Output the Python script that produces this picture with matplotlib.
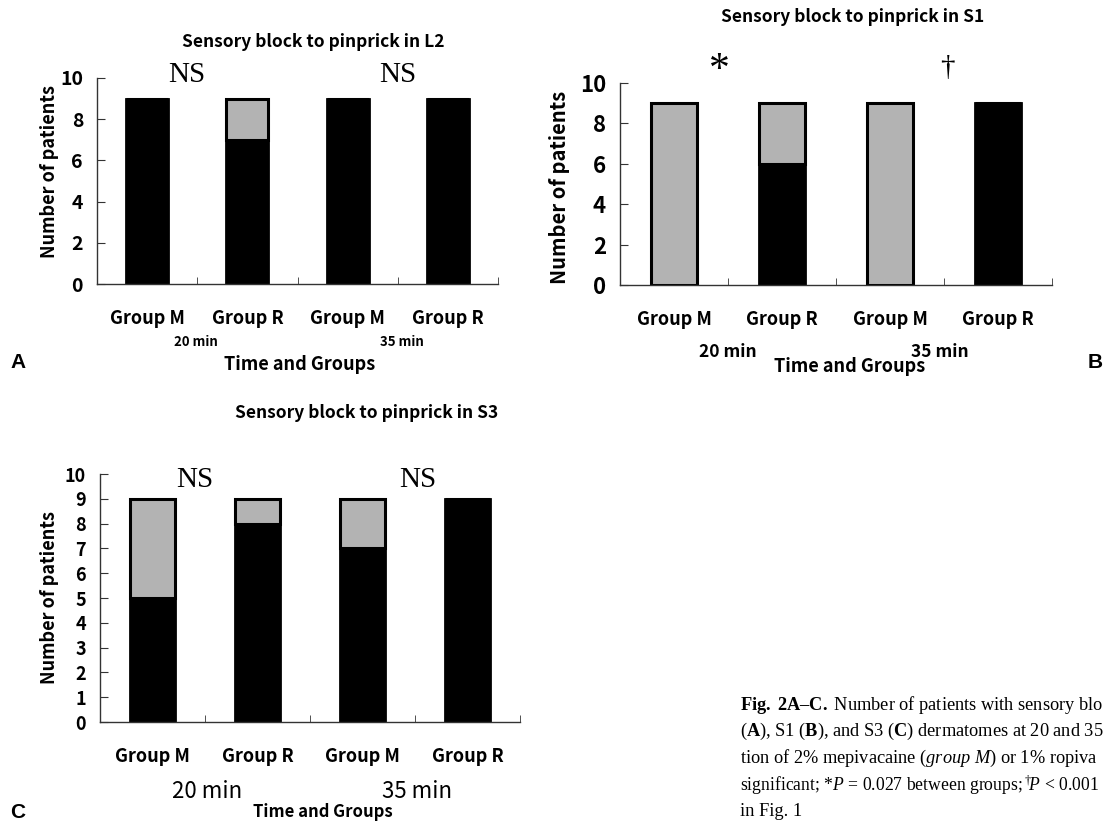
import numpy as np
import matplotlib
matplotlib.use("Agg")
import matplotlib.pyplot as plt

# data: black = blocked, grey = not blocked
groups = ["Group M", "Group R", "Group M", "Group R"]
l2_black = [9, 7, 9, 9]
l2_grey = [0, 2, 0, 0]
s1_black = [0, 6, 0, 9]
s1_grey = [9, 3, 9, 0]
s3_black = [5, 8, 7, 9]
s3_grey = [4, 1, 2, 0]

W, H = 1106, 827
GREY = "#b3b3b3"
SANS = ["Noto Sans CJK JP", "DejaVu Sans"]
SERIF = "Liberation Serif"

plt.rcParams["font.family"] = SANS
plt.rcParams["mathtext.fontset"] = "custom"
plt.rcParams["mathtext.rm"] = SERIF
plt.rcParams["mathtext.it"] = SERIF + ":italic"
plt.rcParams["mathtext.bf"] = SERIF + ":bold"

fig = plt.figure(figsize=(W / 100, H / 100), dpi=100)


def px(x, y):
    return x / W, 1 - y / H


def panel(left, top, right, bottom, black, grey, yticks, tsize):
    ax = fig.add_axes([left / W, 1 - bottom / H, (right - left) / W, (bottom - top) / H])
    x = np.arange(len(groups)) + 0.5
    ax.bar(x, black, width=0.42, color="black", edgecolor="black", linewidth=2)
    ax.bar(x, grey, width=0.42, bottom=black, color=GREY, edgecolor="black", linewidth=2.2)
    ax.set_xlim(0, 4)
    ax.set_ylim(0, 10)
    for s in ["top", "right"]:
        ax.spines[s].set_visible(False)
    for s in ["left", "bottom"]:
        ax.spines[s].set_color("#333333")
        ax.spines[s].set_linewidth(1.0)
    ax.set_xticks(x)
    ax.set_xticklabels(groups, fontsize=13, fontweight="bold")
    ax.tick_params(axis="x", which="major", length=0, pad=18)
    ax.set_xticks([1, 2, 3, 4], minor=True)
    ax.tick_params(axis="x", which="minor", direction="in", length=5, color="#333333")
    ax.set_yticks(yticks)
    ax.set_yticklabels([str(v) for v in yticks], fontsize=tsize, fontweight="bold")
    ax.tick_params(axis="y", direction="in", length=6, pad=10, color="#333333")
    return ax


# A
axA = panel(97, 78, 498, 284, l2_black, l2_grey, [0, 2, 4, 6, 8, 10], 14)
# B
axB = panel(620, 83, 1052, 285, s1_black, s1_grey, [0, 2, 4, 6, 8, 10], 16)
# C
axC = panel(100, 474, 520, 722, s3_black, s3_grey, list(range(11)), 13)

# titles
fig.text(*px(313, 42), "Sensory block to pinprick in L2", fontsize=12.5, fontweight="bold", ha="center", va="center")
fig.text(*px(853, 17), "Sensory block to pinprick in S1", fontsize=12.5, fontweight="bold", ha="center", va="center")
fig.text(*px(367, 413), "Sensory block to pinprick in S3", fontsize=12.5, fontweight="bold", ha="center", va="center")

# y labels
fig.text(*px(50, 171), "Number of patients", fontsize=13, fontweight="bold", rotation=90, ha="center", va="center")
fig.text(*px(559, 187), "Number of patients", fontsize=14.5, fontweight="bold", rotation=90, ha="center", va="center")
fig.text(*px(50, 597), "Number of patients", fontsize=13, fontweight="bold", rotation=90, ha="center", va="center")

# significance marks
for ax, xs, y, txt in [(axA, [0.9, 3.0], 10.15, "NS"), (axC, [0.9, 3.03], 9.75, "NS")]:
    for xv in xs:
        ax.text(xv, y, txt, fontsize=21, family=SERIF, ha="center", va="center", clip_on=False)
axB.text(0.92, 10.6, "*", fontsize=30, family=SERIF, ha="center", va="center", clip_on=False)
axB.text(3.03, 10.75, "\u2020", fontsize=21, family=SERIF, ha="center", va="center", clip_on=False)

# time labels
fig.text(*px(196, 342), "20 min", fontsize=9.5, fontweight="bold", ha="center", va="center")
fig.text(*px(402, 342), "35 min", fontsize=9.5, fontweight="bold", ha="center", va="center")
fig.text(*px(300, 364), "Time and Groups", fontsize=13, fontweight="bold", ha="center", va="center")
fig.text(*px(728, 352), "20 min", fontsize=12.5, fontweight="bold", ha="center", va="center")
fig.text(*px(940, 352), "35 min", fontsize=12.5, fontweight="bold", ha="center", va="center")
fig.text(*px(850, 366), "Time and Groups", fontsize=13, fontweight="bold", ha="center", va="center")
fig.text(*px(207, 791), "20 min", fontsize=16, ha="center", va="center")
fig.text(*px(417, 791), "35 min", fontsize=16, ha="center", va="center")
fig.text(*px(323, 812), "Time and Groups", fontsize=12, fontweight="bold", ha="center", va="center")

# panel letters
fig.text(*px(18, 363), "A", fontsize=15, fontweight="bold", ha="center", va="center", family="Liberation Sans")
fig.text(*px(1095, 363), "B", fontsize=15, fontweight="bold", ha="center", va="center", family="Liberation Sans")
fig.text(*px(18, 812), "C", fontsize=15, fontweight="bold", ha="center", va="center", family="Liberation Sans")

# caption (the reference is cut at the page edge)
caption = [
    r"$\mathbf{Fig.\ 2A–C.}$ Number of patients with sensory blo",
    r"($\mathbf{A}$), S1 ($\mathbf{B}$), and S3 ($\mathbf{C}$) dermatomes at 20 and 35",
    r"tion of 2% mepivacaine ($\mathit{group\ M}$) or 1% ropiva",
    r"significant; *$\mathit{P}$ = 0.027 between groups;$\,^{\dagger}\!\mathit{P}$ < 0.001",
    "in Fig. 1",
]
cap_sizes = [13.2, 13.2, 13.2, 12.7, 13.2]
for i, line in enumerate(caption):
    fig.text(*px(740, 705 + i * 26.7), line, fontsize=cap_sizes[i], family=SERIF, ha="left", va="center")

fig.savefig("out.png", dpi=100)
